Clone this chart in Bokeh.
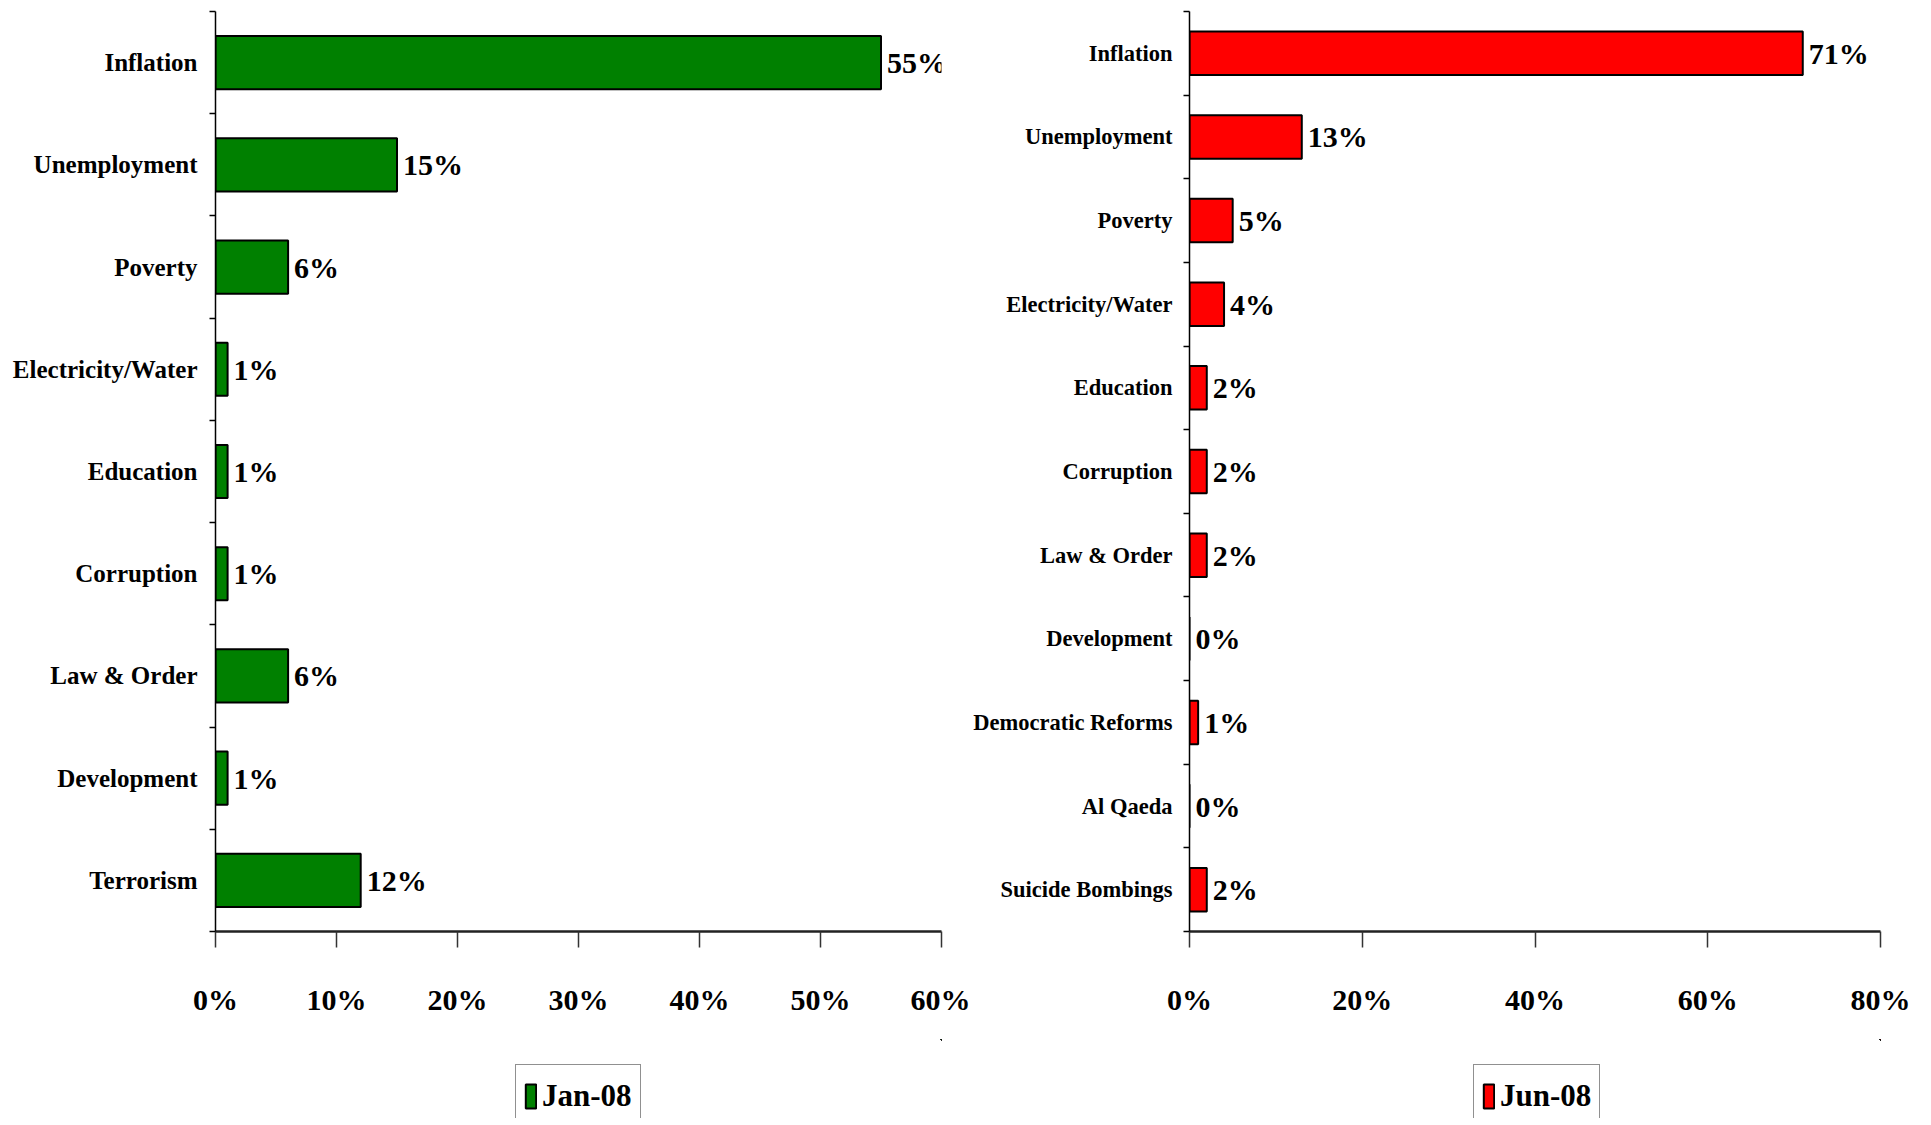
from bokeh.plotting import figure
from bokeh.models import (Range1d, FixedTicker, PrintfTickFormatter, Legend, LegendItem,
                          ColumnDataSource)
from bokeh.layouts import row, column
from bokeh.core.properties import value
from bokeh.embed import file_html
from bokeh.resources import INLINE

# ---- data ----
jan_categories = ["Inflation", "Unemployment", "Poverty", "Electricity/Water", "Education",
                  "Corruption", "Law & Order", "Development", "Terrorism"]
jan_values = [55, 15, 6, 1, 1, 1, 6, 1, 12]

jun_categories = ["Inflation", "Unemployment", "Poverty", "Electricity/Water", "Education",
                  "Corruption", "Law & Order", "Development", "Democratic Reforms",
                  "Al Qaeda", "Suicide Bombings"]
jun_values = [71, 13, 5, 4, 2, 2, 2, 0, 1, 0, 2]

jan_ticks = [0, 10, 20, 30, 40, 50, 60]
jun_ticks = [0, 20, 40, 60, 80]

FONT = "Liberation Serif"


def make_panel(cats, vals, xticks, color, series, width, bl, br, ylab_size, ylab_standoff,
               legend_x):
    n = len(cats)
    pos = [i + 0.5 for i in range(n)]
    src = ColumnDataSource(dict(cat=cats, val=vals, pos=pos,
                                lab=[f"{v}%" for v in vals]))
    p = figure(width=width, height=1039, output_backend="svg", toolbar_location=None,
               x_range=Range1d(xticks[0], xticks[-1]), y_range=Range1d(n, 0),
               min_border_left=bl, min_border_right=br, min_border_top=11,
               min_border_bottom=108)
    p.outline_line_color = None
    p.xgrid.visible = False
    p.ygrid.visible = False
    p.background_fill_color = "white"
    p.border_fill_color = "white"

    bar_style = dict(height=0.52, fill_color=color, line_color="black", line_width=2)
    p.hbar(y="pos", right="val", left=0, source=src, **bar_style)
    p.text(x="val", y="pos", text="lab", source=src, x_offset=6,
           text_font=value(FONT), text_font_style="bold", text_font_size="30px",
           text_baseline="middle", text_align="left", text_color="black")

    # x axis
    xa = p.xaxis[0]
    xa.ticker = FixedTicker(ticks=xticks)
    xa.formatter = PrintfTickFormatter(format="%d%%")
    xa.axis_line_color = "#222222"
    xa.axis_line_width = 2.5
    xa.major_tick_out = 16
    xa.major_tick_in = 0
    xa.major_tick_line_color = "#333333"
    xa.major_tick_line_width = 1.5
    xa.minor_tick_line_color = None
    xa.major_label_standoff = 35
    xa.major_label_text_font = FONT
    xa.major_label_text_font_style = "bold"
    xa.major_label_text_font_size = "30px"
    xa.major_label_text_color = "black"

    # y axis
    ya = p.yaxis[0]
    ya.ticker = FixedTicker(ticks=pos, minor_ticks=list(range(n + 1)))
    ya.major_label_overrides = {pv: c for pv, c in zip(pos, cats)}
    ya.major_tick_line_color = None
    ya.major_tick_out = 0
    ya.major_tick_in = 0
    ya.minor_tick_out = 6
    ya.minor_tick_in = 0
    ya.minor_tick_line_color = "black"
    ya.minor_tick_line_width = 1.5
    ya.axis_line_color = "black"
    ya.axis_line_width = 1.5
    ya.major_label_standoff = ylab_standoff
    ya.major_label_text_font = FONT
    ya.major_label_text_font_style = "bold"
    ya.major_label_text_font_size = ylab_size
    ya.major_label_text_color = "black"

    # legend strip under the chart: the series' bars are drawn here outside the visible
    # ranges, so only the legend key shows
    lf = figure(width=width, height=79, output_backend="svg", toolbar_location=None,
                x_range=Range1d(-3, -2), y_range=Range1d(-3, -2),
                x_axis_location=None, y_axis_location=None,
                min_border_left=0, min_border_right=0, min_border_top=0,
                min_border_bottom=0)
    lf.outline_line_color = None
    lf.grid.visible = False
    lf.background_fill_color = "white"
    lf.border_fill_color = "white"
    lr = lf.hbar(y="pos", right="val", left=0, source=src, **bar_style)
    legend = Legend(items=[LegendItem(label=series, renderers=[lr])],
                    location=(legend_x, -10), orientation="vertical")
    legend.padding = 8
    legend.margin = 0
    legend.glyph_width = 13
    legend.glyph_height = 30
    legend.label_height = 46
    legend.label_standoff = 5
    legend.label_text_font = FONT
    legend.label_text_font_style = "bold"
    legend.label_text_font_size = "31px"
    legend.label_text_color = "black"
    legend.border_line_color = "#222222"
    legend.border_line_width = 1.5
    legend.background_fill_color = "white"
    legend.background_fill_alpha = 1
    lf.add_layout(legend)
    return column(p, lf)


c1 = make_panel(jan_categories, jan_values, jan_ticks, "#008000", "Jan-08",
                width=970, bl=215, br=29, ylab_size="25px", ylab_standoff=12,
                legend_x=300)
c2 = make_panel(jun_categories, jun_values, jun_ticks, "#FF0000", "Jun-08",
                width=940, bl=217, br=30, ylab_size="22.5px", ylab_standoff=11,
                legend_x=284)

layout = row(c1, c2)
open("out.html", "w").write(file_html(layout, INLINE))
